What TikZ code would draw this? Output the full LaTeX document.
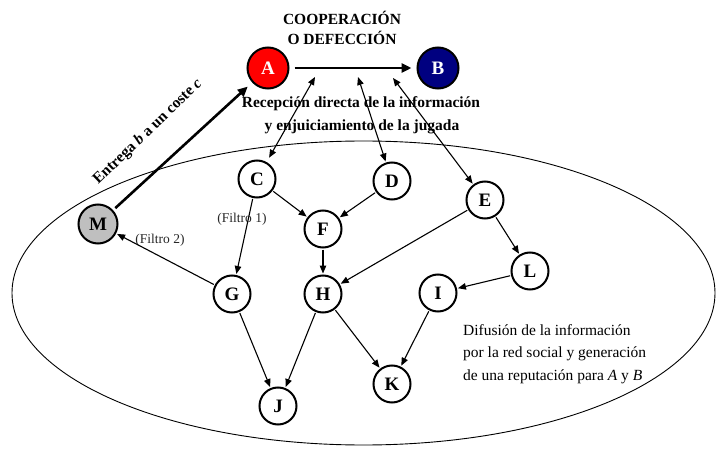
\documentclass[tikz,border=0pt]{standalone}
\usepackage{fontspec}
\setmainfont{Liberation Serif}
\usetikzlibrary{arrows.meta}
\begin{document}
\begin{tikzpicture}[x=1pt,y=-1pt,
  nd/.style={circle,draw,line width=2pt,minimum size=37pt,inner sep=0pt,outer sep=2pt,font=\fontsize{19}{19}\selectfont\bfseries},
  bignd/.style={nd,minimum size=41pt},
  conn/.style={line width=1.1pt,-{Triangle[length=8pt,width=6.5pt]}},
  dconn/.style={line width=1.1pt,{Triangle[length=8pt,width=6.5pt]}-{Triangle[length=8pt,width=6.5pt]}},
  thick arrow/.style={line width=2.6pt,-{Triangle[length=10pt,width=9pt]}},
  lbl/.style={font=\fontsize{15.5}{20}\selectfont\bfseries,inner sep=0pt},
  small/.style={font=\fontsize{13.5}{13.5}\selectfont,inner sep=0pt,text=black!85},
]
\useasboundingbox (0,0) rectangle (716,452);
% ellipse
\draw[line width=0.9pt] (363.5,293) ellipse [x radius=351.5, y radius=152];

% nodes
\node[bignd,fill=red,text=white] (A) at (268,68) {A};
\node[bignd,fill={rgb,255:red,0;green,0;blue,128},text=white] (B) at (438,68) {B};
\node[nd,fill=black!25,minimum size=39pt] (M) at (98,224) {M};
\node[nd] (C) at (257,179) {C};
\node[nd] (D) at (392,181) {D};
\node[nd] (E) at (485,200) {E};
\node[nd] (F) at (323,229) {F};
\node[nd] (L) at (530,271) {L};
\node[nd] (G) at (232,294) {G};
\node[nd] (H) at (323,294) {H};
\node[nd] (I) at (438,293) {I};
\node[nd] (J) at (278,406) {J};
\node[nd] (K) at (392,384) {K};

\coordinate (p1) at (315,77);
\coordinate (p2) at (358,77);
\coordinate (p3) at (393,78);

% texts
\node[lbl] (t1) at (342,18) {COOPERACIÓN};
\node[lbl] (t2) at (342,38) {O DEFECCIÓN};
\node[lbl] (t3) at (361,104) {Recepción directa de la información};
\node[lbl] (t4) at (362,127) {y enjuiciamiento de la jugada};
\node[lbl,rotate=44] (t5) at (148,132) {Entrega \textit{b} a un coste \textit{c}};
\node[small] (f1) at (242,219) {(Filtro 1)};
\node[small] (f2) at (160,240) {(Filtro 2)};
\node[font=\fontsize{15.5}{22.5}\selectfont,align=left,anchor=west,inner sep=0pt] (dif) at (463,354)
  {Difusión de la información\\por la red social y generación\\de una reputación para \textit{A} y \textit{B}};

% connectors
\draw[thick arrow,shorten <=4pt,shorten >=4pt] (A) -- (B);
\draw[thick arrow,shorten <=2pt,shorten >=5pt] (M) -- (A);
\draw[dconn,shorten <=4pt] (C) -- (p1);
\draw[dconn] (D) -- (p2);
\draw[dconn] (E) -- (p3);
\draw[conn] (C) -- (F);
\draw[conn] (D) -- (F);
\draw[conn] (C) -- (G);
\draw[conn] (F) -- (H);
\draw[conn] (E) -- (H);
\draw[conn] (E) -- (L);
\draw[conn] (L) -- (I);
\draw[conn] (G) -- (M);
\draw[conn] (G) -- (J);
\draw[conn] (H) -- (J);
\draw[conn] (H) -- (K);
\draw[conn] (I) -- (K);
\end{tikzpicture}
\end{document}
